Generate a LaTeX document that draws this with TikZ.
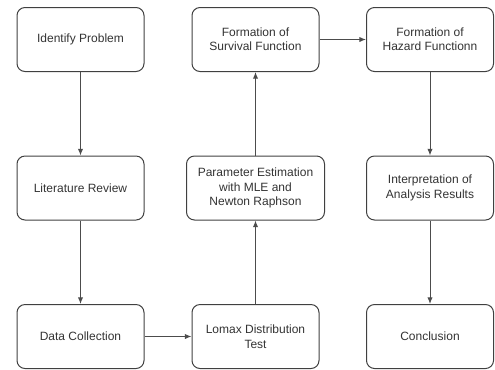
\documentclass[tikz,border=0pt]{standalone}
\usepackage{fontspec}
\setmainfont{Liberation Sans}
\usetikzlibrary{arrows.meta}

\begin{document}
\begin{tikzpicture}[x=0.75pt,y=-0.75pt,every text node part/.style={align=center},
stepbox/.style={draw=black!75, line width=0.75pt, rounded corners=6pt, minimum width=95.25pt, minimum height=48pt, inner sep=2pt, font=\fontsize{9}{10.8}\selectfont, text=black!80},
flow/.style={draw=black!70, line width=0.75pt, -{Latex[length=5pt,width=4pt]}}]
\useasboundingbox (0,0) rectangle (495,369);
\node [stepbox] (problem) at (80.5,39.5) {Identify Problem};
\node [stepbox] (review) at (80.5,188) {Literature Review};
\node [stepbox] (data) at (80.5,336.5) {Data Collection};
\node [stepbox] (lomax) at (255.5,336.5) {Lomax Distribution\\Test};
\node [stepbox, minimum width=103.5pt] (estimation) at (255.5,188) {Parameter Estimation\\with MLE and\\Newton Raphson};
\node [stepbox] (survival) at (255.5,39.5) {Formation of\\Survival Function};
\node [stepbox] (hazard) at (430,39.5) {Formation of\\Hazard Functionn};
\node [stepbox] (interpret) at (430,188) {Interpretation of\\Analysis Results};
\node [stepbox] (conclusion) at (430,336.5) {Conclusion};
\draw [flow] (problem) -- (review);
\draw [flow] (review) -- (data);
\draw [flow] (data) -- (lomax);
\draw [flow] (lomax) -- (estimation);
\draw [flow] (estimation) -- (survival);
\draw [flow] (survival) -- (hazard);
\draw [flow] (hazard) -- (interpret);
\draw [flow] (interpret) -- (conclusion);
\end{tikzpicture}
\end{document}
